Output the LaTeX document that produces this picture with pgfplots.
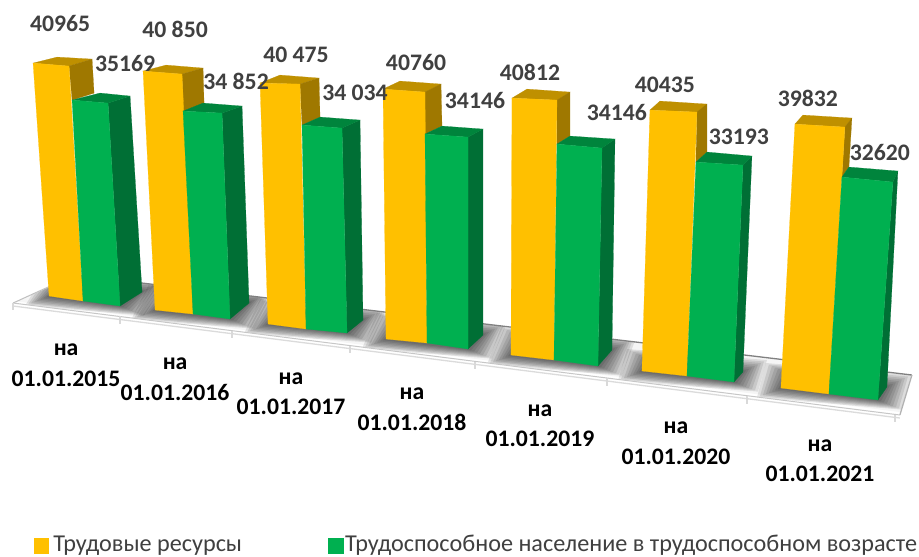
\documentclass[border=0pt]{standalone}
\usepackage{fontspec}
\setmainfont{Carlito}
\usepackage{pgfplots}
\pgfplotsset{compat=1.18}
\definecolor{yfront}{HTML}{FFC000}
\definecolor{ytop}{HTML}{BF9000}
\definecolor{yside}{HTML}{9F7800}
\definecolor{gfront}{HTML}{00B050}
\definecolor{gtop}{HTML}{00843C}
\definecolor{gside}{HTML}{006F35}
\definecolor{lab}{HTML}{404040}
\newcommand{\poly}[2]{\addplot[draw=#1,line width=0.2pt,fill=#1,forget plot] coordinates {#2} --cycle;}
\newcommand{\seg}[3]{\addplot[draw=#1,line width=#2,forget plot] coordinates {#3};}
% six faces of one pair of bars
\newcommand{\barpair}[6]{%
 \poly{ytop}{#2}\poly{yside}{#3}\poly{yfront}{#1}\poly{gside}{#6}\poly{gtop}{#5}\poly{gfront}{#4}}
% soft shadow of a footprint: front-left, front-right, back-right, back-left
\newcommand{\shadowlayer}[9]{%
 \pgfmathsetmacro\sa{#2-#1}\pgfmathsetmacro\sb{#3+0.4*#1}%
 \pgfmathsetmacro\sc{#4+#1}\pgfmathsetmacro\sd{#5+0.4*#1}%
 \pgfmathsetmacro\se{#6+#1}\pgfmathsetmacro\sf{#7-0.5*#1}%
 \pgfmathsetmacro\sg{#8-#1}\pgfmathsetmacro\sh{#9-0.5*#1}%
 \edef\tmp{\noexpand\addplot[draw=none,fill=black,fill opacity=0.095,forget plot] coordinates {(\sa,\sb)(\sc,\sd)(\se,\sf)(\sg,\sh)} --cycle;}\tmp}
\newcommand{\shadow}[8]{%
 \shadowlayer{24}{#1}{#2}{#3}{#4}{#5}{#6}{#7}{#8}%
 \shadowlayer{21}{#1}{#2}{#3}{#4}{#5}{#6}{#7}{#8}%
 \shadowlayer{18}{#1}{#2}{#3}{#4}{#5}{#6}{#7}{#8}%
 \shadowlayer{15}{#1}{#2}{#3}{#4}{#5}{#6}{#7}{#8}%
 \shadowlayer{12}{#1}{#2}{#3}{#4}{#5}{#6}{#7}{#8}%
 \shadowlayer{9}{#1}{#2}{#3}{#4}{#5}{#6}{#7}{#8}%
 \shadowlayer{6}{#1}{#2}{#3}{#4}{#5}{#6}{#7}{#8}%
 \shadowlayer{3}{#1}{#2}{#3}{#4}{#5}{#6}{#7}{#8}}
\newcommand{\vlab}[3]{\node[anchor=base,inner sep=0pt,text=lab,font=\fontsize{23.7}{26}\selectfont\bfseries] at (axis cs:#1,#2) {#3};}
\begin{document}
\begin{tikzpicture}
\begin{axis}[hide axis,scale only axis,width=919pt,height=556pt,
  xmin=0,xmax=919,ymin=0,ymax=556,y dir=reverse,clip=false]
\poly{white}{(0,0)(919,0)(919,556)(0,556)}
% floor
\poly{white}{(13,303)(75,275)(912,375)(900,415)}
\addplot[draw=none,fill=black!4,forget plot] coordinates {(13,303)(75,275)(912,375)(900,412)(13,301)} --cycle;
\shadow{49}{296}{120}{306}{142}{292}{71}{282}
\shadow{155}{310}{230}{319}{249}{303}{174}{294}
\shadow{268}{324}{347}{333}{363}{320}{284}{311}
\shadow{386}{339}{468}{349}{483}{335}{401}{325}
\shadow{511}{355}{598}{366}{612}{350}{525}{339}
\shadow{642}{371}{734}{382}{743}{372}{651}{361}
\shadow{781}{388}{878}{400}{887}{387}{790}{375}
% what lies outside the floor stays white
\poly{white}{(0,0)(919,0)(919,376)(912,375)(75,275)(13,303)(0,303)}
\poly{white}{(0,303)(13,303)(900,415)(912,375)(919,376)(919,556)(0,556)}
% floor edges and ticks
\seg{black!25}{1pt}{(13,303)(37,292)(75,275)}
\seg{black!50}{1.3pt}{(75,275)(912,375)}
\seg{black!30}{1.3pt}{(912,375)(900,415)}
\seg{black!22}{1pt}{(13,303)(900,415)}
\seg{black!14}{1.3pt}{(13,306)(900,418)}
\seg{black!15}{1.5pt}{(13,303)(13,310)}
\seg{black!15}{1.5pt}{(120,316)(120,324)}
\seg{black!15}{1.5pt}{(232,331)(232,338)}
\seg{black!15}{1.5pt}{(350,346)(350,353)}
\seg{black!15}{1.5pt}{(475,362)(475,369)}
\seg{black!15}{1.5pt}{(607,378)(607,386)}
\seg{black!15}{1.5pt}{(747,396)(747,404)}
\seg{black!15}{1.5pt}{(895,415)(895,422)}
% bars
\barpair{(33,63)(69,66)(83,301)(49,296)}{(33,63)(57,57)(92,59)(69,66)}{(69,66)(92,59)(94,93)(72,100)}{(72,100)(108,103)(120,306)(83,301)}{(72,100)(100,93)(130,96)(108,103)}{(108,103)(130,96)(142,292)(120,306)}
\barpair{(143,71)(182,74)(193,314)(155,310)}{(143,71)(166,65)(203,68)(182,74)}{(182,74)(203,68)(204,103)(183,111)}{(183,111)(222,113)(230,319)(193,314)}{(183,111)(203,103)(242,106)(222,113)}{(222,113)(242,106)(249,303)(230,319)}
\barpair{(260,83)(300,84)(306,329)(268,324)}{(260,83)(280,75)(319,78)(300,84)}{(300,84)(319,78)(320,117)(302,125)}{(302,125)(342,128)(347,333)(306,329)}{(302,125)(320,117)(360,120)(342,128)}{(342,128)(360,120)(363,320)(347,333)}
\barpair{(383,89)(425,92)(427,343)(386,339)}{(383,89)(400,81)(441,84)(425,92)}{(425,92)(441,84)(442,126)(425,134)}{(425,134)(468,137)(468,349)(427,343)}{(425,134)(442,126)(483,129)(468,137)}{(468,137)(483,129)(483,335)(468,349)}
\barpair{(512,98)(557,100)(554,360)(511,355)}{(512,98)(527,89)(570,92)(557,100)}{(557,100)(570,92)(570,136)(557,144)}{(557,144)(602,148)(598,366)(554,360)}{(557,144)(570,136)(615,139)(602,148)}{(602,148)(615,139)(612,350)(598,366)}
\barpair{(650,110)(697,112)(687,376)(642,371)}{(650,110)(660,101)(707,104)(697,112)}{(697,112)(707,104)(707,152)(696,162)}{(696,162)(743,165)(734,382)(687,376)}{(696,162)(707,152)(752,156)(743,165)}{(743,165)(752,156)(743,372)(734,382)}
\barpair{(795,124)(845,127)(829,394)(781,388)}{(795,124)(803,115)(852,118)(845,127)}{(845,127)(852,118)(849,167)(842,177)}{(842,177)(893,182)(878,400)(829,394)}{(842,177)(849,167)(898,171)(893,182)}{(893,182)(898,171)(887,387)(878,400)}
% data labels
\vlab{60}{31}{40965}
\vlab{125}{71}{35169}
\vlab{175}{37}{40 850}
\vlab{236}{89}{34 852}
\vlab{296}{62}{40 475}
\vlab{355}{100}{34 034}
\vlab{416}{70}{40760}
\vlab{475}{108}{34146}
\vlab{530}{80}{40812}
\vlab{617}{120}{34146}
\vlab{665}{92}{40435}
\vlab{739}{144}{33193}
\vlab{808}{106}{39832}
\vlab{880}{160}{32620}
% category labels
\newcommand{\catlab}[4]{%
 \node[anchor=base,inner sep=0pt,font=\fontsize{23.7}{26}\selectfont\bfseries] at (axis cs:#1,#2) {на};
 \node[anchor=base,inner sep=0pt,font=\fontsize{23.7}{26}\selectfont\bfseries] at (axis cs:#1,#3) {#4};}
\catlab{66}{355}{386}{01.01.2015}
\catlab{175}{369}{400}{01.01.2016}
\catlab{291}{384}{414}{01.01.2017}
\catlab{412}{399}{430}{01.01.2018}
\catlab{540}{416}{446}{01.01.2019}
\catlab{676}{433}{464}{01.01.2020}
\catlab{820}{451}{482}{01.01.2021}
% legend
\poly{yfront}{(34,538)(48,538)(48,553)(34,553)}
\poly{gfront}{(328,538)(343,538)(343,553)(328,553)}
\node[anchor=base west,inner sep=0pt,text=lab,font=\fontsize{24.2}{26}\selectfont] at (axis cs:53,551.8) {Трудовые ресурсы};
\node[anchor=base west,inner sep=0pt,text=lab,font=\fontsize{24.2}{26}\selectfont] at (axis cs:345,551.8) {Трудоспособное население в трудоспособном возрасте};
\end{axis}
\end{tikzpicture}
\end{document}
